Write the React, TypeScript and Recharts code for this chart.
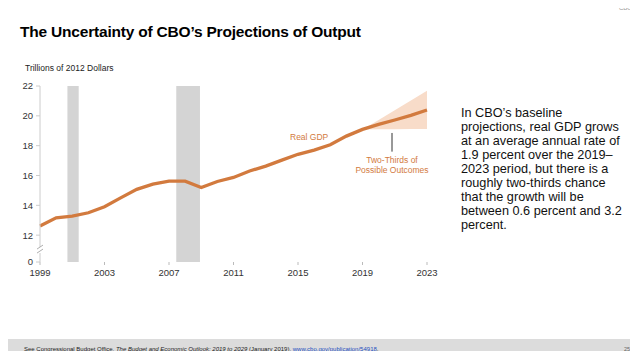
import {
  ComposedChart,
  Line,
  Area,
  XAxis,
  YAxis,
  ReferenceArea,
  ReferenceLine,
  ReferenceDot,
} from "recharts";

const years = [
  1999, 2000, 2001, 2002, 2003, 2004, 2005, 2006, 2007, 2008, 2009, 2010, 2011,
  2012, 2013, 2014, 2015, 2016, 2017, 2018, 2019, 2020, 2021, 2022, 2023,
];
const realGdp = [
  12.62, 13.16, 13.27, 13.5, 13.9, 14.5, 15.07, 15.42, 15.62, 15.62, 15.2, 15.6,
  15.87, 16.3, 16.63, 17.03, 17.42, 17.7, 18.06, 18.64, 19.09, 19.43, 19.72,
  20.03, 20.39,
];
// two-thirds band, projection years only
const bandYears = [2019, 2020, 2021, 2022, 2023];
const bandLow = [19.09, 19.1, 19.1, 19.11, 19.11];
const bandHigh = [19.09, 19.72, 20.37, 21.02, 21.68];

const recessions = [
  { start: 2000.7, end: 2001.4 },
  { start: 2007.45, end: 2008.92 },
];

const xTicks = [1999, 2003, 2007, 2011, 2015, 2019, 2023];
// bottom of the broken axis stands in for zero
const axisFloor = 10.2;
const yTicks = [axisFloor, 12, 14, 16, 18, 20, 22];

const ORANGE = "#d27a3e";
const FONT = "'Liberation Sans', Arial, sans-serif";

const data = years.map((year, i) => {
  const b = bandYears.indexOf(year);
  return {
    year,
    gdp: realGdp[i],
    band: b >= 0 ? [bandLow[b], bandHigh[b]] : null,
  };
});

function AxisBreak(props: any) {
  const { cx, cy } = props;
  return (
    <g>
      <rect x={cx - 4} y={cy - 3} width={8} height={6} fill="#fff" />
      <line x1={cx - 3} y1={cy - 1} x2={cx + 3} y2={cy - 5} stroke="#999" strokeWidth={0.8} />
      <line x1={cx - 3} y1={cy + 3} x2={cx + 3} y2={cy - 1} stroke="#999" strokeWidth={0.8} />
    </g>
  );
}

const paragraph = [
  "In CBO’s baseline",
  "projections, real GDP grows",
  "at an average annual rate of",
  "1.9 percent over the 2019–",
  "2023 period, but there is a",
  "roughly two-thirds chance",
  "that the growth will be",
  "between 0.6 percent and 3.2",
  "percent.",
];

export default function App() {
  return (
    <div
      style={{
        position: "relative",
        width: 638,
        height: 359,
        margin: -8,
        background: "#fff",
        fontFamily: FONT,
        overflow: "hidden",
      }}
    >
      <div style={{ position: "absolute", left: 619, top: 5, fontSize: 6, color: "#999" }}>CBO</div>
      <div
        style={{
          position: "absolute",
          left: 20,
          top: 23,
          fontSize: 15.5,
          letterSpacing: -0.2,
          fontWeight: "bold",
          color: "#000",
          whiteSpace: "nowrap",
        }}
      >
        The Uncertainty of CBO’s Projections of Output
      </div>
      <div style={{ position: "absolute", left: 25, top: 63, fontSize: 8.5, color: "#222" }}>
        Trillions of 2012 Dollars
      </div>

      <div style={{ position: "absolute", left: 0, top: 0 }}>
        <ComposedChart
          width={450}
          height={290}
          data={data}
          margin={{ top: 86, right: 23, bottom: 8, left: 0 }}
        >
          {recessions.map((r, i) => (
            <ReferenceArea
              key={i}
              x1={r.start}
              x2={r.end}
              y1={axisFloor}
              y2={22}
              fill="#d4d4d4"
              fillOpacity={1}
              stroke="none"
            />
          ))}
          <XAxis
            dataKey="year"
            type="number"
            domain={[1999, 2023]}
            ticks={xTicks}
            axisLine={false}
            tickLine={{ stroke: "#bbb" }}
            tickSize={3}
            height={20}
            tick={{ fontSize: 9.5, fill: "#333", fontFamily: FONT }}
            tickMargin={4}
          />
          <YAxis
            type="number"
            domain={[axisFloor, 22]}
            ticks={yTicks}
            width={40}
            axisLine={{ stroke: "#ccc" }}
            tickLine={{ stroke: "#ccc" }}
            tickSize={4}
            tickMargin={3}
            tick={{ fontSize: 9.5, fill: "#333", fontFamily: FONT }}
            tickFormatter={(v: number) => (v === axisFloor ? "0" : String(v))}
          />
          <Area
            dataKey="band"
            fill="#f8dcc9"
            fillOpacity={1}
            stroke="none"
            isAnimationActive={false}
            connectNulls={false}
            activeDot={false}
          />
          <Line
            dataKey="gdp"
            stroke={ORANGE}
            strokeWidth={3.3}
            dot={false}
            type="linear"
            isAnimationActive={false}
          />
          <ReferenceLine
            segment={[
              { x: 2020.83, y: 18.85 },
              { x: 2020.83, y: 17.6 },
            ]}
            stroke="#333"
            strokeWidth={1}
          />
          <ReferenceDot x={1999} y={11.0} r={0} shape={AxisBreak} />
        </ComposedChart>
      </div>

      <div
        style={{
          position: "absolute",
          left: 290,
          top: 132,
          fontSize: 8.5,
          color: ORANGE,
          whiteSpace: "nowrap",
        }}
      >
        Real GDP
      </div>
      <div
        style={{
          position: "absolute",
          left: 352,
          top: 155,
          width: 80,
          textAlign: "center",
          fontSize: 8.5,
          lineHeight: "10px",
          color: ORANGE,
        }}
      >
        Two-Thirds of
        <br />
        Possible Outcomes
      </div>

      <div
        style={{
          position: "absolute",
          left: 461,
          top: 106,
          fontSize: 12.7,
          lineHeight: "14px",
          color: "#111",
          whiteSpace: "nowrap",
        }}
      >
        {paragraph.map((l, i) => (
          <div key={i}>{l}</div>
        ))}
      </div>

      <div
        style={{
          position: "absolute",
          left: 0,
          top: 339,
          width: 638,
          height: 20,
          background: "#dcdcdc",
        }}
      >
        <div
          style={{
            position: "absolute",
            left: 24,
            top: 7,
            fontSize: 6,
            color: "#222",
            whiteSpace: "nowrap",
          }}
        >
          See Congressional Budget Office, <i>The Budget and Economic Outlook: 2019 to 2029</i> (January
          2019), <span style={{ color: "#1f4fbf", textDecoration: "underline" }}>www.cbo.gov/publication/54918</span>.
        </div>
        <div style={{ position: "absolute", left: 624, top: 7, fontSize: 5.5, color: "#666" }}>25</div>
      </div>
    </div>
  );
}
